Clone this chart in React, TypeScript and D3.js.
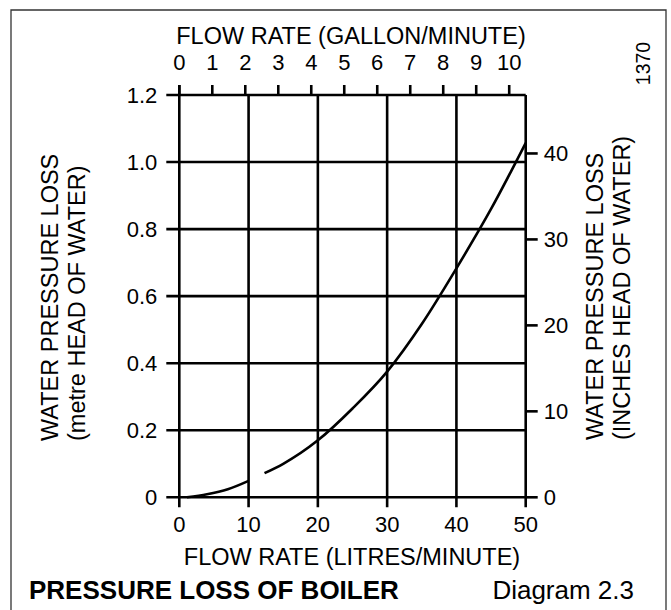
import React, { useEffect, useRef } from 'react';
import * as d3 from 'd3';

// curve, split where the line breaks near 10 L/min
const flowLow: number[] = [1.1, 4, 7, 10];
const lossLow: number[] = [0, 0.009, 0.024, 0.049];
const flowHigh: number[] = [12.3, 15, 20, 25, 30, 35, 40, 45, 50];
const lossHigh: number[] = [0.072, 0.1, 0.17, 0.265, 0.375, 0.517, 0.683, 0.86, 1.057];

const litreTicks: number[] = [0, 10, 20, 30, 40, 50];
const gallonTicks: number[] = [0, 1, 2, 3, 4, 5, 6, 7, 8, 9, 10];
const metreTicks: number[] = [0, 0.2, 0.4, 0.6, 0.8, 1.0, 1.2];
const metreLabels: string[] = ['0', '0.2', '0.4', '0.6', '0.8', '1.0', '1.2'];
const inchTicks: number[] = [0, 10, 20, 30, 40];

const FONT = '"Liberation Sans", Arial, sans-serif';

const PressureLossChart: React.FC = () => {
  const svgRef = useRef<SVGSVGElement | null>(null);

  useEffect(() => {
    const svg = d3.select(svgRef.current);
    svg.selectAll('*').remove();

    const left = 179.3;
    const right = 525.7;
    const top = 95;
    const bottom = 497.3;

    const x = d3.scaleLinear().domain([0, 50]).range([left, right]);
    const xGal = d3.scaleLinear().domain([0, 10.5]).range([left, right]);
    const y = d3.scaleLinear().domain([0, 1.2]).range([bottom, top]);
    const yIn = d3.scaleLinear().domain([0, 46.8]).range([bottom, top]);

    // frame round the whole diagram
    svg
      .append('path')
      .attr('d', `M11,615 L11,10 L666,10 L666,615`)
      .attr('fill', 'none')
      .attr('stroke', '#333')
      .attr('stroke-width', 1.3);

    const g = svg.append('g').attr('stroke', '#000').attr('stroke-width', 2.6);

    // vertical grid, each running down into a tick
    g.selectAll('line.v')
      .data(litreTicks)
      .enter()
      .append('line')
      .attr('x1', d => x(d))
      .attr('x2', d => x(d))
      .attr('y1', d => (d === 0 ? top - 10 : top))
      .attr('y2', bottom + 10);

    // horizontal grid, each starting at a left tick
    g.selectAll('line.h')
      .data(metreTicks)
      .enter()
      .append('line')
      .attr('x1', left - 13)
      .attr('x2', right)
      .attr('y1', d => y(d))
      .attr('y2', d => y(d));

    // top gallon ticks
    g.selectAll('line.gt')
      .data(gallonTicks)
      .enter()
      .append('line')
      .attr('x1', d => xGal(d))
      .attr('x2', d => xGal(d))
      .attr('y1', top)
      .attr('y2', top - 10);

    // right inch ticks
    g.selectAll('line.it')
      .data(inchTicks)
      .enter()
      .append('line')
      .attr('x1', right)
      .attr('x2', right + 12)
      .attr('y1', d => yIn(d))
      .attr('y2', d => yIn(d));

    // curve
    const line = d3
      .line<[number, number]>()
      .x(d => x(d[0]))
      .y(d => y(d[1]))
      .curve(d3.curveMonotoneX);

    const segLow = flowLow.map((f, i) => [f, lossLow[i]] as [number, number]);
    const segHigh = flowHigh.map((f, i) => [f, lossHigh[i]] as [number, number]);

    [segLow, segHigh].forEach(seg => {
      svg
        .append('path')
        .datum(seg)
        .attr('fill', 'none')
        .attr('stroke', '#000')
        .attr('stroke-width', 2.6)
        .attr('d', line);
    });

    const text = svg.append('g').attr('font-family', FONT).attr('fill', '#000');

    // tick labels
    text
      .selectAll('text.yl')
      .data(metreTicks)
      .enter()
      .append('text')
      .attr('x', left - 22)
      .attr('y', d => y(d))
      .attr('dy', '0.36em')
      .attr('text-anchor', 'end')
      .attr('font-size', 22)
      .text((d, i) => metreLabels[i]);

    text
      .selectAll('text.xl')
      .data(litreTicks)
      .enter()
      .append('text')
      .attr('x', d => x(d))
      .attr('y', 532)
      .attr('text-anchor', 'middle')
      .attr('font-size', 22)
      .text(d => String(d));

    text
      .selectAll('text.gl')
      .data(gallonTicks)
      .enter()
      .append('text')
      .attr('x', d => xGal(d))
      .attr('y', 70)
      .attr('text-anchor', 'middle')
      .attr('font-size', 22)
      .text(d => String(d));

    text
      .selectAll('text.il')
      .data(inchTicks)
      .enter()
      .append('text')
      .attr('x', right + 18)
      .attr('y', d => yIn(d))
      .attr('dy', '0.36em')
      .attr('text-anchor', 'start')
      .attr('font-size', 22)
      .text(d => String(d));

    // axis titles
    text
      .append('text')
      .attr('x', 351)
      .attr('y', 44)
      .attr('text-anchor', 'middle')
      .attr('font-size', 23.5)
      .text('FLOW RATE (GALLON/MINUTE)');

    text
      .append('text')
      .attr('x', 352)
      .attr('y', 565)
      .attr('text-anchor', 'middle')
      .attr('font-size', 23.5)
      .text('FLOW RATE (LITRES/MINUTE)');

    const rotated = (tx: number, ty: number, label: string, size: number) =>
      text
        .append('text')
        .attr('transform', `translate(${tx},${ty}) rotate(-90)`)
        .attr('font-size', size)
        .text(label);

    rotated(58, 441, 'WATER PRESSURE LOSS', 23.5);
    rotated(85, 441, '(metre HEAD OF WATER)', 23.5);
    rotated(603, 440, 'WATER PRESSURE LOSS', 23.5);
    rotated(630, 440, '(INCHES HEAD OF WATER)', 23.5);
    rotated(650, 63.5, '1370', 19.5).attr('text-anchor', 'middle');

    // caption
    text
      .append('text')
      .attr('x', 29)
      .attr('y', 599)
      .attr('font-size', 26)
      .attr('font-weight', 'bold')
      .text('PRESSURE LOSS OF BOILER');

    text
      .append('text')
      .attr('x', 634)
      .attr('y', 599)
      .attr('text-anchor', 'end')
      .attr('font-size', 26)
      .text('Diagram 2.3');
  }, []);

  return (
    <svg
      ref={svgRef}
      width={671}
      height={610}
      style={{ position: 'absolute', left: 0, top: 0, background: '#fff' }}
    />
  );
};

export default function App() {
  return <PressureLossChart />;
}
